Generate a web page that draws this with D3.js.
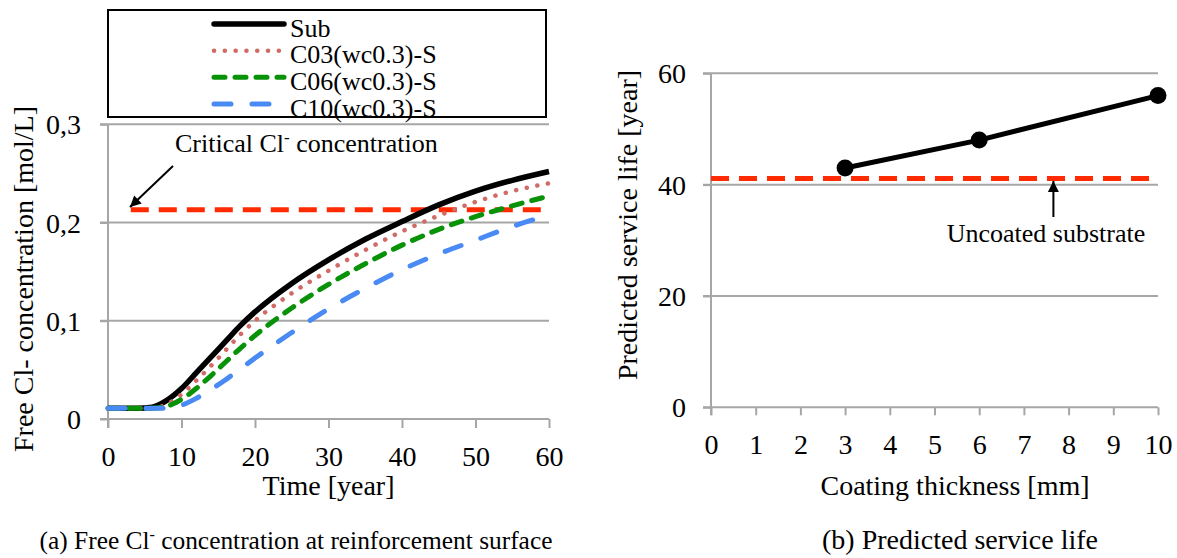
<!DOCTYPE html>
<html>
<head>
<meta charset="utf-8">
<script src="https://cdn.jsdelivr.net/npm/d3@7"></script>
<style>
  html, body { margin: 0; padding: 0; background: #fff; }
  svg { display: block; }
  text { font-family: "Liberation Serif", "Times New Roman", serif; fill: #000; }
</style>
</head>
<body>
<svg id="fig" width="1177" height="558"></svg>
<script>
// ---- (a) free chloride concentration at the reinforcement surface ----
const years   = [0, 2, 4, 6, 8, 10, 12, 14, 16, 18, 20, 25, 30, 35, 40, 45, 50, 55, 60];
const subConc = [0.011, 0.011, 0.011, 0.012, 0.019, 0.031, 0.047, 0.063, 0.079, 0.095, 0.109, 0.138, 0.162, 0.183, 0.201, 0.218, 0.232, 0.243, 0.252];
const c03Conc = [0.011, 0.011, 0.011, 0.011, 0.015, 0.025, 0.039, 0.054, 0.070, 0.086, 0.100, 0.128, 0.151, 0.172, 0.191, 0.207, 0.221, 0.232, 0.240];
const c06Conc = [0.011, 0.011, 0.011, 0.011, 0.013, 0.020, 0.031, 0.044, 0.058, 0.072, 0.085, 0.113, 0.137, 0.158, 0.177, 0.193, 0.206, 0.217, 0.227];
const c10Conc = [0.011, 0.011, 0.011, 0.011, 0.011, 0.014, 0.021, 0.030, 0.040, 0.051, 0.062, 0.088, 0.112, 0.133, 0.152, 0.168, 0.182, 0.196, 0.2075];
const seriesNames = ["Sub", "C03(wc0.3)-S", "C06(wc0.3)-S", "C10(wc0.3)-S"];
const criticalConc = 0.213;
const criticalStartYear = 3.1;
const timeTicks = [0, 10, 20, 30, 40, 50, 60];
const concTicks = [0, 0.1, 0.2, 0.3];
const concTickLabels = ["0", "0,1", "0,2", "0,3"];

// ---- (b) predicted service life ----
const thickness = [3, 6, 10];
const serviceLife = [43, 48, 56];
const uncoatedLife = 41.1;
const thicknessTicks = [0, 1, 2, 3, 4, 5, 6, 7, 8, 9, 10];
const lifeTicks = [0, 20, 40, 60];

const svg = d3.select("#fig");
const GRID = "#a6a6a6";
const RED = "#ff2a00";

// arrowhead marker
svg.append("defs").append("marker")
  .attr("id", "head").attr("viewBox", "0 0 10 10")
  .attr("refX", 10).attr("refY", 5)
  .attr("markerWidth", 13).attr("markerHeight", 11)
  .attr("markerUnits", "userSpaceOnUse")
  .attr("orient", "auto")
  .append("path").attr("d", "M0,0 L10,5 L0,10 Z").attr("fill", "#000");

function styleAxis(g, size) {
  g.select(".domain").attr("stroke", GRID).attr("stroke-width", 2);
  g.selectAll(".tick line").attr("stroke", GRID).attr("stroke-width", 2);
  g.selectAll(".tick text").style("font-size", size + "px").attr("fill", "#000");
}

// ================= panel (a) =================
const xA = d3.scaleLinear().domain([0, 60]).range([108, 549]);
const yA = d3.scaleLinear().domain([0, 0.3]).range([419, 124.3]);

const pa = svg.append("g");
// horizontal gridlines
pa.append("g").selectAll("line").data(concTicks.filter(d => d > 0)).join("line")
  .attr("x1", xA(0) - 8).attr("x2", xA(60))
  .attr("y1", d => yA(d)).attr("y2", d => yA(d))
  .attr("stroke", GRID).attr("stroke-width", 2);

const axA_x = pa.append("g").attr("transform", `translate(0,${yA(0)})`)
  .call(d3.axisBottom(xA).tickValues(timeTicks).tickFormat(d3.format("d"))
    .tickSize(9).tickSizeOuter(0).tickPadding(18));
styleAxis(axA_x, 28);
axA_x.select(".domain").attr("d", `M${xA(0) - 8},0H${xA(60)}`);

const axA_y = pa.append("g").attr("transform", `translate(${xA(0)},0)`)
  .call(d3.axisLeft(yA).tickValues(concTicks).tickFormat((d, i) => concTickLabels[i])
    .tickSize(8).tickSizeOuter(0).tickPadding(19));
styleAxis(axA_y, 28);
axA_y.selectAll(".tick text").attr("dy", "0.34em");
axA_y.select(".domain").attr("d", `M0,${yA(0) + 9}V${yA(0.3)}`);

// critical chloride level
pa.append("line")
  .attr("x1", xA(criticalStartYear)).attr("x2", xA(60))
  .attr("y1", yA(criticalConc)).attr("y2", yA(criticalConc))
  .attr("stroke", RED).attr("stroke-width", 5).attr("stroke-dasharray", "18 10");

// series curves
const lineA = d3.line().x((d, i) => xA(years[i])).y(d => yA(d)).curve(d3.curveMonotoneX);
const seriesStyle = [
  { data: subConc, color: "#000000", width: 5.5, dash: null, cap: "butt" },
  { data: c03Conc, color: "#d06b66", width: 4.5, dash: "0.1 10.7", cap: "round" },
  { data: c06Conc, color: "#079207", width: 5, dash: "11 10", cap: "round" },
  { data: c10Conc, color: "#4a8af4", width: 5, dash: "17 21", cap: "round" }
];
seriesStyle.forEach(s => {
  pa.append("path").attr("d", lineA(s.data))
    .attr("fill", "none").attr("stroke", s.color).attr("stroke-width", s.width)
    .attr("stroke-dasharray", s.dash).attr("stroke-linecap", s.cap);
});

// annotation
pa.append("line")
  .attr("x1", 173).attr("y1", 166).attr("x2", 130).attr("y2", 207)
  .attr("stroke", "#000").attr("stroke-width", 2).attr("marker-end", "url(#head)");
const crit = pa.append("text").attr("x", 175).attr("y", 152).style("font-size", "26px");
crit.append("tspan").text("Critical Cl");
crit.append("tspan").text("-").attr("dy", -9).style("font-size", "17px");
crit.append("tspan").text(" concentration").attr("dy", 9);

// legend
const lg = pa.append("g");
lg.append("rect").attr("x", 108).attr("y", 10).attr("width", 438).attr("height", 107)
  .attr("fill", "#fff").attr("stroke", "#000").attr("stroke-width", 2);
const legendRowY = [24, 50.7, 77.3, 104];
seriesStyle.forEach((s, i) => {
  lg.append("line").attr("x1", 214).attr("x2", 284)
    .attr("y1", legendRowY[i]).attr("y2", legendRowY[i])
    .attr("stroke", s.color).attr("stroke-width", s.width)
    .attr("stroke-dasharray", s.dash).attr("stroke-linecap", s.cap === "butt" ? "round" : s.cap);
  lg.append("text").attr("x", 290).attr("y", legendRowY[i] + 12.7)
    .style("font-size", "26px").text(seriesNames[i]);
});
// the box outline sits above the last label
lg.append("rect").attr("x", 108).attr("y", 10).attr("width", 438).attr("height", 107)
  .attr("fill", "none").attr("stroke", "#000").attr("stroke-width", 2);

// axis titles
pa.append("text").attr("x", (xA(0) + xA(60)) / 2).attr("y", 495)
  .attr("text-anchor", "middle").style("font-size", "28px").text("Time [year]");
pa.append("text").attr("transform", "translate(33,279) rotate(-90)")
  .attr("text-anchor", "middle").style("font-size", "28px").text("Free Cl- concentration [mol/L]");

// ================= panel (b) =================
const xB = d3.scaleLinear().domain([0, 10]).range([711, 1158]);
const yB = d3.scaleLinear().domain([0, 60]).range([407.3, 73.3]);
const pb = svg.append("g");

pb.append("g").selectAll("line").data(lifeTicks.filter(d => d > 0)).join("line")
  .attr("x1", xB(0) - 8).attr("x2", xB(10))
  .attr("y1", d => yB(d)).attr("y2", d => yB(d))
  .attr("stroke", GRID).attr("stroke-width", 2);

const axB_x = pb.append("g").attr("transform", `translate(0,${yB(0)})`)
  .call(d3.axisBottom(xB).tickValues(thicknessTicks).tickFormat(d3.format("d"))
    .tickSize(8).tickSizeOuter(0).tickPadding(19));
styleAxis(axB_x, 28);
axB_x.select(".domain").attr("d", `M${xB(0) - 8},0H${xB(10)}`);

const axB_y = pb.append("g").attr("transform", `translate(${xB(0)},0)`)
  .call(d3.axisLeft(yB).tickValues(lifeTicks).tickFormat(d3.format("d"))
    .tickSize(8).tickSizeOuter(0).tickPadding(17));
styleAxis(axB_y, 28);
axB_y.selectAll(".tick text").attr("dy", "0.34em");
axB_y.select(".domain").attr("d", `M0,${yB(0) + 8}V${yB(60)}`);

// uncoated substrate reference
pb.append("line")
  .attr("x1", xB(0)).attr("x2", xB(10))
  .attr("y1", yB(uncoatedLife)).attr("y2", yB(uncoatedLife))
  .attr("stroke", RED).attr("stroke-width", 5).attr("stroke-dasharray", "18 10");

const lineB = d3.line().x((d, i) => xB(thickness[i])).y(d => yB(d));
pb.append("path").attr("d", lineB(serviceLife))
  .attr("fill", "none").attr("stroke", "#000").attr("stroke-width", 5);
pb.selectAll("circle").data(serviceLife).join("circle")
  .attr("cx", (d, i) => xB(thickness[i])).attr("cy", d => yB(d)).attr("r", 8.5)
  .attr("fill", "#000");

pb.append("line")
  .attr("x1", xB(7.66)).attr("y1", 217).attr("x2", xB(7.66)).attr("y2", 181)
  .attr("stroke", "#000").attr("stroke-width", 2).attr("marker-end", "url(#head)");
pb.append("text").attr("x", 1046).attr("y", 241.5).attr("text-anchor", "middle")
  .style("font-size", "26px").text("Uncoated substrate");

pb.append("text").attr("x", 955).attr("y", 495).attr("text-anchor", "middle")
  .style("font-size", "28px").text("Coating thickness [mm]");
pb.append("text").attr("transform", "translate(637,225) rotate(-90)")
  .attr("text-anchor", "middle").style("font-size", "28px").text("Predicted service life [year]");

// ================= captions =================
const capA = svg.append("text").attr("x", 296).attr("y", 549).attr("text-anchor", "middle")
  .style("font-size", "25.4px");
capA.append("tspan").text("(a) Free Cl");
capA.append("tspan").text("-").attr("dy", -9).style("font-size", "16px");
capA.append("tspan").text(" concentration at reinforcement surface").attr("dy", 9);
svg.append("text").attr("x", 960).attr("y", 549).attr("text-anchor", "middle")
  .style("font-size", "28px").text("(b) Predicted service life");
</script>
</body>
</html>
